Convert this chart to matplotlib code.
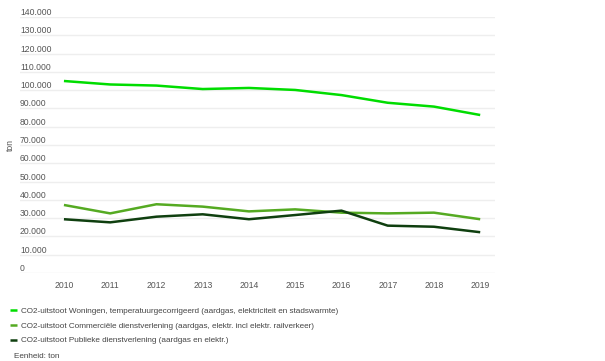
import matplotlib
matplotlib.use("Agg")
import matplotlib.pyplot as plt
from matplotlib.ticker import FuncFormatter

years = [2010, 2011, 2012, 2013, 2014, 2015, 2016, 2017, 2018, 2019]
woningen = [105000, 103100, 102500, 100600, 101200, 100100, 97300, 93100, 91000, 86400]
commercieel = [37200, 32600, 37600, 36300, 33700, 34800, 33000, 32600, 33000, 29400]
publiek = [29400, 27700, 30800, 32100, 29400, 31700, 34100, 25900, 25300, 22300]

labels = [
    "CO2-uitstoot Woningen, temperatuurgecorrigeerd (aardgas, elektriciteit en stadswarmte)",
    "CO2-uitstoot Commerciële dienstverlening (aardgas, elektr. incl elektr. railverkeer)",
    "CO2-uitstoot Publieke dienstverlening (aardgas en elektr.)",
]
colors = ["#00dd00", "#55aa22", "#0f3f0f"]

plt.rcParams["font.family"] = ["Liberation Sans", "DejaVu Sans"]
txt = "#555555"

fig = plt.figure(figsize=(6.05, 3.61), dpi=100)
ax = fig.add_axes([20 / 605, 88 / 361, 475 / 605, 256 / 361])

for vals, c, lab in zip([woningen, commercieel, publiek], colors, labels):
    ax.plot(years, vals, color=c, lw=1.8, label=lab, solid_capstyle="butt")

ax.set_xlim(2009.05, 2019.32)
ax.set_ylim(0, 140000)
ax.set_xticks(years)
ax.set_yticks(range(0, 140001, 10000))
ax.yaxis.set_major_formatter(FuncFormatter(lambda v, p: f"{int(v):,}".replace(",", ".")))
ax.grid(axis="y", color="#eeeeee", lw=1)
ax.set_axisbelow(True)
for s in ax.spines.values():
    s.set_visible(False)
ax.tick_params(axis="both", length=0, labelsize=6.2, labelcolor=txt)
ax.tick_params(axis="y", pad=0)
ax.tick_params(axis="x", pad=6)
for t in ax.get_yticklabels():
    t.set_horizontalalignment("left")
    t.set_verticalalignment("bottom")

fig.text(10 / 605, 1 - 145 / 361, "ton", rotation=90, fontsize=6.2, color=txt,
         ha="center", va="center")

leg = fig.legend(loc="upper left", bbox_to_anchor=(7 / 605, 1 - 304 / 361), frameon=False,
                 fontsize=5.9, handlelength=0.8, handletextpad=0.5, labelspacing=0.85,
                 borderaxespad=0)
for t in leg.get_texts():
    t.set_color("#444444")
fig.text(14 / 605, 1 - 356 / 361, "Eenheid: ton", fontsize=5.9, color="#444444",
         ha="left", va="center")

fig.savefig("out.png", dpi=100, facecolor="white")
